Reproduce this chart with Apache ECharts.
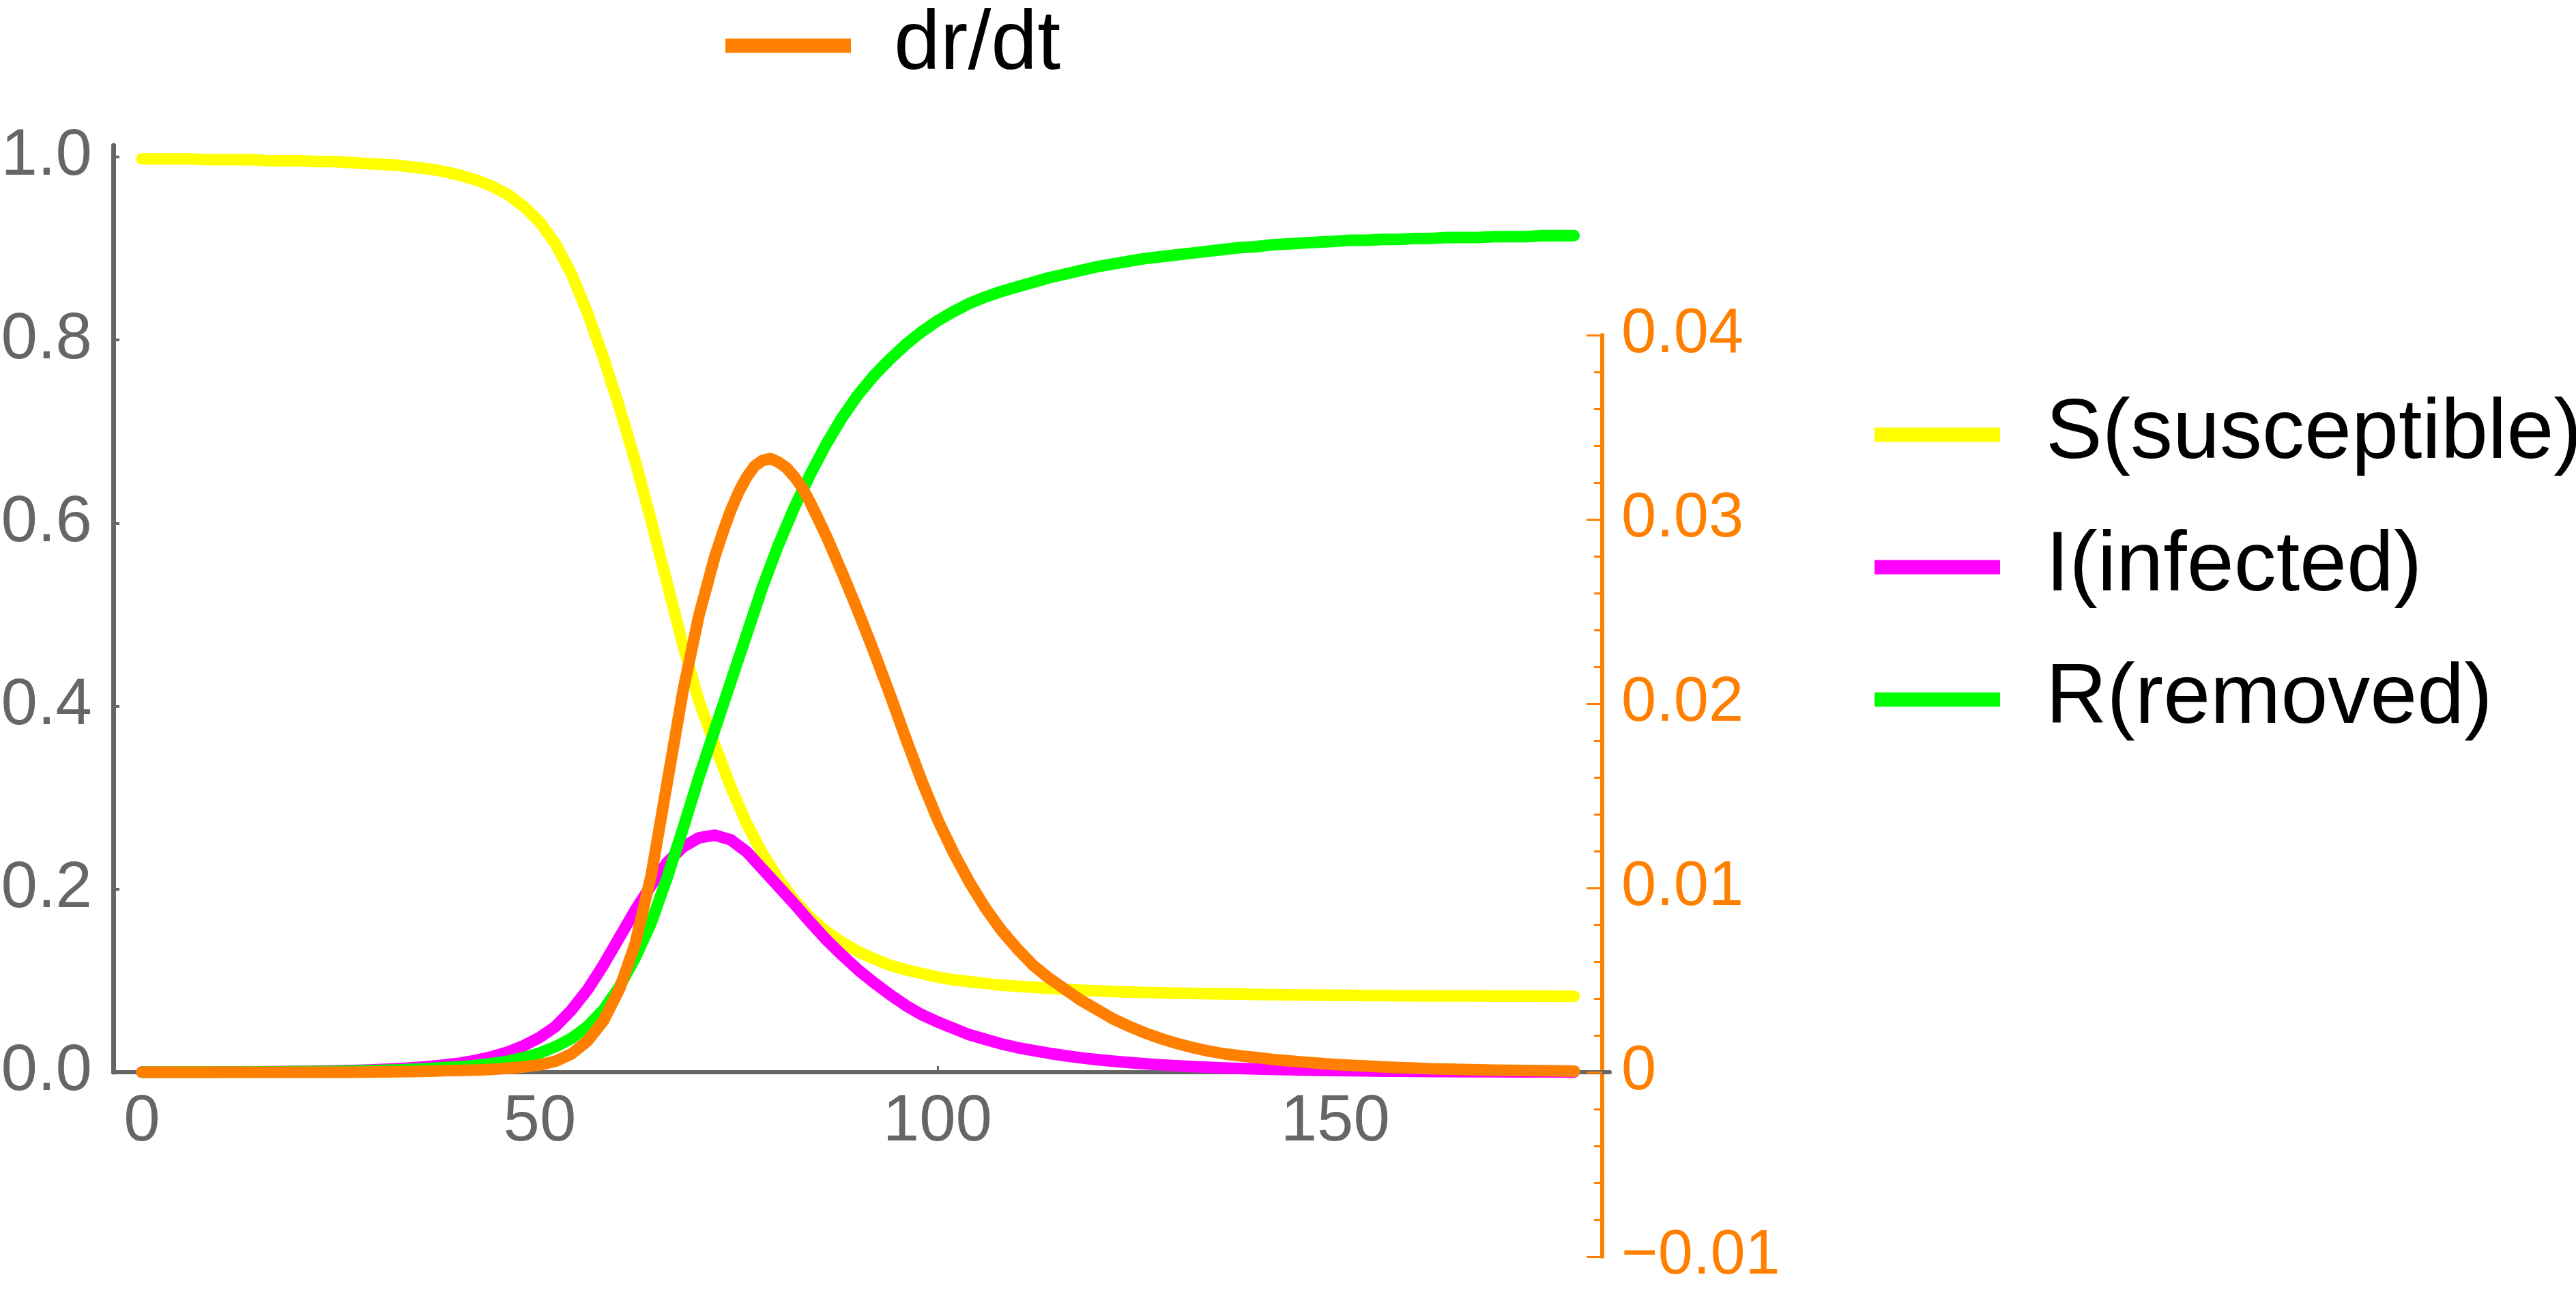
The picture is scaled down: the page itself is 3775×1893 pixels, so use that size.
<!DOCTYPE html>
<html>
<head>
<meta charset="utf-8">
<title>SIR</title>
<script src="https://cdn.jsdelivr.net/npm/echarts@6.0.0/dist/echarts.min.js"></script>
<style>
  html, body { margin: 0; padding: 0; background: #fff; }
  #chart { width: 3775px; height: 1893px; }
</style>
</head>
<body>
<div id="chart"></div>
<script>
// time (days), every 2 days
const days = [
  0, 2, 4, 6, 8, 10, 12, 14, 16, 18,
  20, 22, 24, 26, 28, 30, 32, 34, 36, 38,
  40, 42, 44, 46, 48, 50, 52, 54, 56, 58,
  60, 62, 64, 66, 68, 70, 72, 74, 76, 78,
  80, 82, 84, 86, 88, 90, 92, 94, 96, 98,
  100, 102, 104, 106, 108, 110, 112, 114, 116, 118,
  120, 122, 124, 126, 128, 130, 132, 134, 136, 138,
  140, 142, 144, 146, 148, 150, 152, 154, 156, 158,
  160, 162, 164, 166, 168, 170, 172, 174, 176, 178,
  180];

const susceptible = [
  0.998, 0.998, 0.998, 0.998, 0.997, 0.997, 0.997, 0.997, 0.996, 0.996,
  0.996, 0.995, 0.995, 0.994, 0.993, 0.992, 0.991, 0.989, 0.987, 0.984,
  0.980, 0.975, 0.968, 0.959, 0.946, 0.929, 0.905, 0.872, 0.830, 0.781,
  0.727, 0.668, 0.603, 0.535, 0.467, 0.406, 0.358, 0.312, 0.272, 0.239,
  0.211, 0.188, 0.169, 0.154, 0.142, 0.132, 0.124, 0.117, 0.112, 0.108,
  0.104, 0.101, 0.099, 0.097, 0.095, 0.094, 0.0928, 0.0917, 0.0906, 0.0897,
  0.0889, 0.0882, 0.0877, 0.0872, 0.0868, 0.0864, 0.0861, 0.0858, 0.0855, 0.0853,
  0.0851, 0.0849, 0.0847, 0.0845, 0.0843, 0.0841, 0.0840, 0.0838, 0.0837, 0.0836,
  0.0835, 0.0834, 0.0834, 0.0833, 0.0833, 0.0832, 0.0832, 0.0831, 0.0831, 0.0830,
  0.0830];

const infected = [
  0.0001, 0.0001, 0.0001, 0.0002, 0.0002, 0.0003, 0.0003, 0.0004, 0.0005, 0.0007,
  0.0009, 0.0011, 0.0014, 0.0018, 0.0023, 0.0030, 0.0038, 0.0049, 0.0062, 0.0079,
  0.010, 0.013, 0.017, 0.022, 0.029, 0.038, 0.050, 0.068, 0.090, 0.117,
  0.147, 0.177, 0.204, 0.229, 0.246, 0.256, 0.259, 0.254, 0.241, 0.222,
  0.203, 0.184, 0.164, 0.145, 0.128, 0.112, 0.098, 0.085, 0.073, 0.063,
  0.055, 0.048, 0.041, 0.036, 0.031, 0.027, 0.0237, 0.0207, 0.0181, 0.0158,
  0.0138, 0.0121, 0.0106, 0.0093, 0.0081, 0.0071, 0.0062, 0.0054, 0.0047, 0.0041,
  0.0036, 0.0032, 0.0028, 0.0024, 0.0021, 0.0018, 0.0016, 0.0014, 0.0012, 0.0011,
  0.0009, 0.0008, 0.0007, 0.0006, 0.0005, 0.0005, 0.0004, 0.0004, 0.0003, 0.0003,
  0.0002];

const removed = [
  0, 0, 0.0001, 0.0001, 0.0001, 0.0002, 0.0002, 0.0003, 0.0004, 0.0005,
  0.0007, 0.0008, 0.0010, 0.0013, 0.0016, 0.0020, 0.0025, 0.0032, 0.0040, 0.0050,
  0.006, 0.0075, 0.0095, 0.012, 0.016, 0.021, 0.028, 0.037, 0.050, 0.068,
  0.093, 0.125, 0.163, 0.212, 0.266, 0.322, 0.374, 0.426, 0.478, 0.530,
  0.576, 0.617, 0.653, 0.686, 0.715, 0.740, 0.761, 0.779, 0.795, 0.809,
  0.821, 0.831, 0.840, 0.847, 0.853, 0.858, 0.863, 0.868, 0.872, 0.876,
  0.880, 0.883, 0.886, 0.889, 0.891, 0.893, 0.895, 0.897, 0.899, 0.901,
  0.902, 0.904, 0.905, 0.906, 0.907, 0.908, 0.909, 0.909, 0.910, 0.910,
  0.911, 0.911, 0.912, 0.912, 0.912, 0.913, 0.913, 0.913, 0.914, 0.914,
  0.914];

// dr/dt (right axis), read a little finer round its peak
const drdtDays = [
  0, 2, 4, 6, 8, 10, 12, 14, 16, 18,
  20, 22, 24, 26, 28, 30, 32, 34, 36, 38,
  40, 42, 44, 46, 48, 50, 52, 54, 56, 58,
  60, 62, 64, 66, 68, 70, 72, 73, 74, 75,
  76, 77, 78, 79, 80, 81, 82, 83, 84, 86,
  88, 90, 92, 94, 96, 98,
  100, 102, 104, 106, 108, 110, 112, 114, 116, 118,
  120, 122, 124, 126, 128, 130, 132, 134, 136, 138,
  140, 142, 144, 146, 148, 150, 152, 154, 156, 158,
  160, 162, 164, 166, 168, 170, 172, 174, 176, 178,
  180];

const drdt = [
  0, 0, 0, 0, 0, 0, 0, 0, 0, 0,
  0, 0, 0, 0, 0.00001, 0.00002, 0.00003, 0.00004, 0.00006, 0.00008,
  0.0001, 0.00012, 0.00016, 0.00021, 0.00029, 0.0004, 0.0006, 0.0010, 0.0017, 0.0028,
  0.0045, 0.0070, 0.0107, 0.0157, 0.0207, 0.0248, 0.0280, 0.0293, 0.0305, 0.0315,
  0.0323, 0.0329, 0.0332, 0.0333, 0.0331, 0.0328, 0.0323, 0.0317, 0.0309, 0.0291,
  0.0271, 0.0250, 0.0228, 0.0205, 0.0181, 0.0158,
  0.0137, 0.0119, 0.0103, 0.0089, 0.0077, 0.0067, 0.0058, 0.0051, 0.0045, 0.0039,
  0.0034, 0.0029, 0.0025, 0.00214, 0.00183, 0.00157, 0.00134, 0.00115, 0.00100, 0.00089,
  0.00080, 0.00070, 0.00062, 0.00055, 0.00048, 0.00042, 0.00037, 0.00033, 0.00029, 0.00025,
  0.00022, 0.00019, 0.00017, 0.00015, 0.00013, 0.00011, 0.00010, 0.00009, 0.00008, 0.00007,
  0.00006];

const xTicks = [0, 50, 100, 150];
const leftTicks = [0, 0.2, 0.4, 0.6, 0.8, 1.0];

const FONT = '"Liberation Sans", Arial, Helvetica, sans-serif';
const GRAY = '#666666';
const ORANGE = '#FF8000';

const zip = (xs, vals) => xs.map((d, i) => [d, vals[i]]);

let myChart = echarts.init(document.getElementById('chart'));

function lineSeries (name, color, points, axisIdx, z) {
  return {
    name: name,
    type: 'line',
    xAxisIndex: axisIdx,
    yAxisIndex: axisIdx,
    data: points,
    smooth: false,
    symbol: 'none',
    clip: false,
    color: color,
    itemStyle: { color: color },
    lineStyle: { color: color, width: 17, cap: 'round', join: 'round' },
    z: z
  };
}

let option = {
  backgroundColor: '#fff',
  animation: false,
  textStyle: { fontFamily: FONT },
  grid: [
    { left: 166, top: 213, width: 2193, height: 1358, outerBoundsMode: 'none' },
    { left: 166, top: 491, width: 2182, height: 1350, outerBoundsMode: 'none' }
  ],
  legend: [
    {
      data: ['dr/dt'],
      left: 1058,
      top: 1,
      icon: 'rect',
      itemWidth: 184,
      itemHeight: 21,
      selectedMode: false,
      textStyle: { fontSize: 122, lineHeight: 120, color: '#000', fontFamily: FONT, padding: [0, 0, 0, 58] }
    },
    {
      data: ['S(susceptible)', 'I(infected)', 'R(removed)'],
      orient: 'vertical',
      left: 2742,
      top: 570,
      itemGap: 70,
      icon: 'rect',
      itemWidth: 184,
      itemHeight: 21,
      selectedMode: false,
      textStyle: { fontSize: 124, lineHeight: 120, color: '#000', fontFamily: FONT, padding: [0, 0, 0, 62] }
    }
  ],
  xAxis: [
    {
      type: 'value',
      gridIndex: 0,
      min: -3.6,
      max: 184.5,
      axisLine: { show: true, onZero: false, lineStyle: { color: GRAY, width: 6 } },
      axisTick: { show: true, inside: true, length: 9, customValues: xTicks, lineStyle: { color: GRAY, width: 3 } },
      axisLabel: { customValues: xTicks, fontSize: 96, color: GRAY, margin: 26, fontFamily: FONT },
      splitLine: { show: false }
    },
    {
      type: 'value',
      gridIndex: 1,
      min: -3.6,
      max: 183.5,
      show: false
    }
  ],
  yAxis: [
    {
      type: 'value',
      gridIndex: 0,
      position: 'left',
      min: 0,
      max: 1.0127,
      axisLine: { show: true, onZero: false, lineStyle: { color: GRAY, width: 7 } },
      axisTick: { show: true, inside: true, length: 9, customValues: leftTicks, lineStyle: { color: GRAY, width: 4 } },
      axisLabel: {
        customValues: leftTicks,
        fontSize: 96,
        color: GRAY,
        margin: 31,
        fontFamily: FONT,
        formatter: v => v.toFixed(1)
      },
      splitLine: { show: false }
    },
    {
      type: 'value',
      gridIndex: 1,
      position: 'right',
      min: -0.01,
      max: 0.04,
      interval: 0.01,
      axisLine: { show: true, onZero: false, lineStyle: { color: ORANGE, width: 6 } },
      axisTick: { show: true, inside: true, length: 23, lineStyle: { color: ORANGE, width: 3 } },
      minorTick: { show: true, splitNumber: 5, length: 12, lineStyle: { color: ORANGE, width: 3 } },
      axisLabel: {
        fontSize: 92,
        color: ORANGE,
        margin: 28,
        fontFamily: FONT,
        formatter: v => {
          if (Math.abs(v) < 1e-9) return '0';
          let s = Math.abs(v).toFixed(2);
          return v < 0 ? '\u2212' + s : s;
        }
      },
      splitLine: { show: false },
      minorSplitLine: { show: false }
    }
  ],
  series: [
    lineSeries('S(susceptible)', '#FFFF00', zip(days, susceptible), 0, 2),
    lineSeries('I(infected)', '#FF00FF', zip(days, infected), 0, 3),
    lineSeries('R(removed)', '#00FF00', zip(days, removed), 0, 4),
    lineSeries('dr/dt', ORANGE, zip(drdtDays, drdt), 1, 5)
  ]
};
myChart.setOption(option);
</script>
</body>
</html>
